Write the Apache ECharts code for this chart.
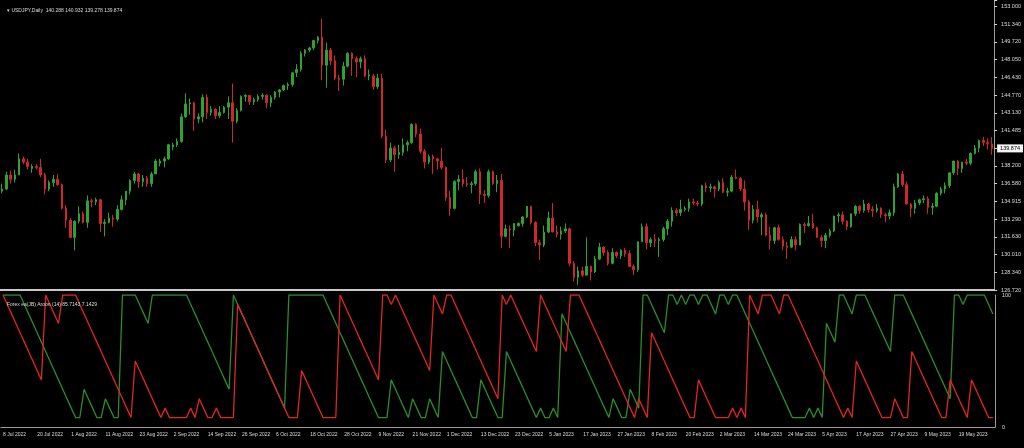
<!DOCTYPE html>
<html><head><meta charset="utf-8">
<script src="https://cdn.jsdelivr.net/npm/echarts/dist/echarts.min.js"></script>
<style>html,body{margin:0;padding:0;background:#000}#c{width:1024px;height:448px}</style>
</head><body><div id="c"></div><script>
const dates = [
"8 Jul 2022","11 Jul 2022","12 Jul 2022","13 Jul 2022","14 Jul 2022","15 Jul 2022","18 Jul 2022","19 Jul 2022","20 Jul 2022","21 Jul 2022","22 Jul 2022","25 Jul 2022","26 Jul 2022","27 Jul 2022","28 Jul 2022","29 Jul 2022",
"1 Aug 2022","2 Aug 2022","3 Aug 2022","4 Aug 2022","5 Aug 2022","8 Aug 2022","9 Aug 2022","10 Aug 2022","11 Aug 2022","12 Aug 2022","15 Aug 2022","16 Aug 2022","17 Aug 2022","18 Aug 2022","19 Aug 2022","22 Aug 2022","23 Aug 2022","24 Aug 2022","25 Aug 2022","26 Aug 2022","29 Aug 2022","30 Aug 2022","31 Aug 2022",
"1 Sep 2022","2 Sep 2022","5 Sep 2022","6 Sep 2022","7 Sep 2022","8 Sep 2022","9 Sep 2022","12 Sep 2022","13 Sep 2022","14 Sep 2022","15 Sep 2022","16 Sep 2022","19 Sep 2022","20 Sep 2022","21 Sep 2022","22 Sep 2022","23 Sep 2022","26 Sep 2022","27 Sep 2022","28 Sep 2022","29 Sep 2022","30 Sep 2022",
"3 Oct 2022","4 Oct 2022","5 Oct 2022","6 Oct 2022","7 Oct 2022","10 Oct 2022","11 Oct 2022","12 Oct 2022","13 Oct 2022","14 Oct 2022","17 Oct 2022","18 Oct 2022","19 Oct 2022","20 Oct 2022","21 Oct 2022","24 Oct 2022","25 Oct 2022","26 Oct 2022","27 Oct 2022","28 Oct 2022","31 Oct 2022",
"1 Nov 2022","2 Nov 2022","3 Nov 2022","4 Nov 2022","7 Nov 2022","8 Nov 2022","9 Nov 2022","10 Nov 2022","11 Nov 2022","14 Nov 2022","15 Nov 2022","16 Nov 2022","17 Nov 2022","18 Nov 2022","21 Nov 2022","22 Nov 2022","23 Nov 2022","24 Nov 2022","25 Nov 2022","28 Nov 2022","29 Nov 2022","30 Nov 2022",
"1 Dec 2022","2 Dec 2022","5 Dec 2022","6 Dec 2022","7 Dec 2022","8 Dec 2022","9 Dec 2022","12 Dec 2022","13 Dec 2022","14 Dec 2022","15 Dec 2022","16 Dec 2022","19 Dec 2022","20 Dec 2022","21 Dec 2022","22 Dec 2022","23 Dec 2022","26 Dec 2022","27 Dec 2022","28 Dec 2022","29 Dec 2022","30 Dec 2022",
"3 Jan 2023","4 Jan 2023","5 Jan 2023","6 Jan 2023","9 Jan 2023","10 Jan 2023","11 Jan 2023","12 Jan 2023","13 Jan 2023","16 Jan 2023","17 Jan 2023","18 Jan 2023","19 Jan 2023","20 Jan 2023","23 Jan 2023","24 Jan 2023","25 Jan 2023","26 Jan 2023","27 Jan 2023","30 Jan 2023","31 Jan 2023",
"1 Feb 2023","2 Feb 2023","3 Feb 2023","6 Feb 2023","7 Feb 2023","8 Feb 2023","9 Feb 2023","10 Feb 2023","13 Feb 2023","14 Feb 2023","15 Feb 2023","16 Feb 2023","17 Feb 2023","20 Feb 2023","21 Feb 2023","22 Feb 2023","23 Feb 2023","24 Feb 2023","27 Feb 2023","28 Feb 2023",
"1 Mar 2023","2 Mar 2023","3 Mar 2023","6 Mar 2023","7 Mar 2023","8 Mar 2023","9 Mar 2023","10 Mar 2023","13 Mar 2023","14 Mar 2023","15 Mar 2023","16 Mar 2023","17 Mar 2023","20 Mar 2023","21 Mar 2023","22 Mar 2023","23 Mar 2023","24 Mar 2023","27 Mar 2023","28 Mar 2023","29 Mar 2023","30 Mar 2023","31 Mar 2023",
"3 Apr 2023","4 Apr 2023","5 Apr 2023","6 Apr 2023","7 Apr 2023","10 Apr 2023","11 Apr 2023","12 Apr 2023","13 Apr 2023","14 Apr 2023","17 Apr 2023","18 Apr 2023","19 Apr 2023","20 Apr 2023","21 Apr 2023","24 Apr 2023","25 Apr 2023","26 Apr 2023","27 Apr 2023","28 Apr 2023",
"1 May 2023","2 May 2023","3 May 2023","4 May 2023","5 May 2023","8 May 2023","9 May 2023","10 May 2023","11 May 2023","12 May 2023","15 May 2023","16 May 2023","17 May 2023","18 May 2023","19 May 2023","22 May 2023","23 May 2023","24 May 2023","25 May 2023","26 May 2023","29 May 2023","30 May 2023","31 May 2023"
];
// [open, high, low, close]
const ohlc = [
[135.9,136.6,135.7,136.1],[136.1,137.7,136.0,137.4],[137.4,137.8,136.6,137.0],[137.0,137.9,136.7,137.4],[137.4,139.4,137.4,138.9],[138.9,139.1,138.4,138.6],[138.6,138.9,137.9,138.2],[138.0,138.4,137.6,138.2],[138.2,138.4,137.9,138.1],[138.1,138.9,137.2,137.4],[137.4,137.6,135.6,136.1],[136.1,136.9,135.9,136.7],[136.7,137.4,136.3,137.0],[137.0,137.5,136.4,136.5],[136.5,136.6,134.2,134.3],[134.3,134.6,132.5,133.2],
[133.2,133.4,131.6,131.6],[131.6,133.2,130.4,133.1],[133.1,134.5,132.9,133.8],[133.8,134.0,132.9,133.0],[133.0,135.5,132.5,135.0],[135.0,135.2,134.4,134.9],[134.9,135.3,134.6,135.1],[135.1,135.2,132.1,132.9],[132.9,133.3,131.7,133.0],[133.0,133.9,132.9,133.4],[133.4,133.7,132.6,133.3],[133.3,134.6,133.1,134.2],[134.2,135.5,134.1,135.1],[135.1,135.9,134.6,135.9],[135.9,137.0,135.6,136.9],[136.9,137.7,136.6,137.5],[137.5,137.6,136.2,136.8],[136.8,137.4,136.3,137.1],[137.1,137.3,136.3,136.6],[136.6,137.7,136.3,137.5],[137.5,138.9,137.5,138.7],[138.5,138.9,138.2,138.7],[138.7,139.1,138.1,138.9],
[138.9,140.3,138.8,140.2],[140.0,140.4,139.7,140.2],[140.2,140.8,140.0,140.5],[140.5,143.1,140.4,142.8],[142.8,145.0,142.7,144.0],[144.0,144.5,143.0,144.1],[144.1,144.2,141.5,142.6],[142.6,143.1,142.2,142.8],[142.8,144.9,142.3,144.6],[144.6,144.9,142.6,143.2],[143.2,143.8,142.9,143.5],[143.5,143.6,142.6,142.9],[142.9,143.8,142.7,143.2],[143.2,143.8,143.1,143.7],[143.7,144.7,142.6,144.1],[144.1,145.9,140.4,142.4],[142.4,143.6,142.2,143.4],[143.4,144.8,143.3,144.7],[144.7,144.9,144.2,144.8],[144.8,144.8,143.9,144.2],[144.2,144.6,143.9,144.4],[144.4,144.9,144.2,144.7],
[144.7,145.0,144.4,144.8],[144.8,144.9,143.6,144.1],[144.1,144.8,143.7,144.6],[144.6,145.2,144.4,145.1],[145.1,145.4,144.6,145.3],[145.3,145.8,145.2,145.7],[145.7,146.0,145.3,145.8],[145.8,146.9,145.6,146.9],[146.9,147.7,146.5,147.2],[147.2,148.9,147.0,148.7],[148.7,149.1,148.4,149.0],[149.0,149.3,148.8,149.2],[149.2,149.9,149.0,149.9],[149.9,150.3,149.6,150.2],[150.2,151.9,146.2,147.6],[147.6,149.7,145.5,149.0],[149.0,149.2,147.6,148.0],[148.0,148.5,146.2,146.4],[146.4,146.7,145.2,146.3],[146.3,147.9,145.7,147.5],[147.5,148.8,147.4,148.7],
[148.7,148.8,146.6,148.2],[148.2,148.4,146.5,147.9],[147.9,148.4,147.3,148.2],[148.2,148.5,146.5,146.6],[146.6,147.2,146.2,146.7],[146.6,146.8,145.3,145.6],[145.6,146.8,145.4,146.4],[146.4,146.8,140.8,141.0],[141.0,141.6,138.5,138.8],[138.8,140.4,138.6,139.9],[139.9,140.1,137.7,139.3],[139.3,140.2,138.9,139.5],[139.5,140.8,139.2,140.2],[140.2,140.6,139.6,140.4],[140.4,142.2,140.3,142.1],[142.1,142.2,140.9,141.2],[141.2,141.7,139.4,139.6],[139.6,139.8,138.0,138.6],[138.6,139.3,138.4,139.1],[139.1,139.3,137.5,138.9],[138.9,139.0,137.9,138.7],[138.7,139.9,137.9,138.1],
[138.1,138.2,135.0,135.3],[135.3,135.9,133.6,134.3],[134.3,136.9,134.2,136.8],[136.8,137.4,136.0,137.0],[137.0,137.9,136.3,136.6],[136.6,137.2,136.3,136.5],[136.5,136.8,135.7,136.6],[136.6,137.9,136.4,137.7],[137.7,138.0,134.7,135.6],[135.6,136.0,134.8,135.5],[135.5,137.9,135.3,137.7],[137.7,137.8,136.5,136.6],[136.6,137.4,135.8,136.9],[136.9,137.5,130.6,131.7],[131.7,132.8,131.6,132.4],[132.4,132.7,130.6,132.3],[132.3,132.9,131.7,132.9],[132.7,133.0,132.6,132.9],[132.9,133.6,132.6,133.5],[133.5,134.5,133.4,134.5],[134.5,134.5,132.8,133.0],[133.0,133.1,130.8,131.1],
[131.1,131.4,129.5,130.9],[130.9,132.7,130.7,132.1],[132.1,134.0,132.0,133.4],[133.4,134.8,132.1,132.1],[132.1,132.7,131.6,131.9],[131.9,132.6,131.4,132.2],[132.2,132.9,132.0,132.4],[132.4,132.5,128.9,129.2],[129.2,129.4,127.5,127.9],[127.9,128.9,127.2,128.5],[128.5,128.9,127.9,128.1],[128.1,131.6,128.1,128.9],[128.9,129.0,127.6,128.4],[128.4,129.9,128.3,129.6],[129.6,131.1,129.5,130.7],[130.7,130.8,129.9,130.2],[130.2,130.4,129.0,129.2],[129.2,130.6,129.1,130.2],[130.2,130.3,129.7,129.9],[129.9,130.5,129.6,130.4],[130.4,130.6,129.8,130.1],
[130.1,130.4,128.9,128.9],[128.9,129.1,128.1,128.6],[128.6,131.2,128.4,131.2],[131.2,132.9,131.2,132.6],[132.6,132.9,130.5,131.1],[131.1,131.6,130.7,131.4],[131.4,131.9,130.7,131.3],[131.3,131.6,129.8,131.4],[131.4,132.6,131.2,132.4],[132.4,133.3,131.8,133.1],[133.1,134.4,132.6,134.1],[134.1,134.3,133.6,133.9],[133.9,135.1,133.6,134.2],[134.2,134.5,134.0,134.3],[134.3,135.2,134.0,134.9],[134.9,135.2,134.6,134.8],[134.8,135.0,134.5,134.7],[134.7,136.5,134.5,136.4],[136.4,136.7,135.8,136.2],[136.2,136.6,135.8,136.3],
[136.3,136.4,135.3,136.1],[136.1,136.9,135.9,136.7],[136.7,137.1,135.7,135.8],[135.8,136.2,135.4,135.9],[135.9,137.4,135.8,137.2],[137.2,137.9,137.0,137.1],[137.1,137.2,135.9,136.1],[136.1,136.9,134.1,134.9],[134.9,135.1,132.3,133.2],[133.2,134.6,132.9,134.2],[134.2,135.0,133.0,133.5],[133.5,133.9,131.8,133.7],[133.7,133.9,131.7,131.8],[131.8,132.6,130.5,131.3],[131.3,132.6,131.0,132.5],[132.5,132.8,131.3,131.4],[131.4,131.7,130.4,130.8],[130.8,131.2,129.6,130.7],[130.7,131.7,130.6,131.4],[131.4,131.7,130.4,130.9],[130.9,132.9,130.9,132.8],[132.8,133.0,132.0,132.7],[132.7,133.6,132.6,132.9],
[132.9,133.8,132.4,132.5],[132.5,132.6,131.6,131.6],[131.6,131.8,130.7,131.3],[131.3,132.0,130.6,131.8],[131.8,132.4,131.6,132.2],[132.2,133.6,132.1,133.6],[133.6,133.9,133.0,133.7],[133.7,134.0,132.8,133.1],[133.1,133.2,132.3,132.6],[132.6,133.8,132.5,133.8],[133.8,134.6,133.6,134.5],[134.5,134.6,133.8,134.1],[134.1,135.1,133.9,134.7],[134.7,134.8,133.9,134.2],[134.2,134.5,133.5,134.1],[134.1,134.7,133.9,134.3],[134.3,134.4,133.4,133.7],[133.7,133.9,133.0,133.6],[133.6,134.2,133.3,133.9],[133.9,136.6,133.6,136.3],
[136.3,137.6,136.2,137.5],[137.5,137.8,136.3,136.5],[136.5,136.8,134.7,134.7],[134.7,134.8,133.5,134.3],[134.3,135.1,133.8,134.8],[134.8,135.2,134.6,135.1],[135.1,135.5,134.8,135.2],[135.2,135.4,133.8,134.4],[134.4,134.8,133.7,134.5],[134.5,135.8,134.4,135.7],[135.7,136.3,135.5,136.1],[136.1,136.7,135.7,136.4],[136.4,137.6,136.2,137.6],[137.6,138.7,137.4,138.7],[138.7,138.8,137.4,138.0],[138.0,138.6,137.6,138.6],[138.6,138.9,138.3,138.5],[138.5,139.5,138.3,139.4],[139.4,140.2,139.3,139.9],[139.9,140.7,139.5,140.6],[140.6,140.95,140.1,140.4],[140.4,140.8,139.8,140.29],[140.288,140.932,139.278,139.874]
];
const priceTicks = ["126.720","128.340","130.010","131.630","133.290","134.915","136.580","138.200","","141.485","143.130","144.770","146.430","148.050","149.720","151.340","153.000"];
const lastPrice = 139.874;
const aroonPeriod = 14;
const mainTitle = "\u25BE USDJPY,Daily  140.288 140.932 139.278 139.874";
const indTitle = "Forex ea(JB) Aroon (14) 85.7143 7.1429";

const highs = ohlc.map(r => r[1]);
const lows = ohlc.map(r => r[2]);
function aroon(arr, up) {
  const out = [];
  for (let i = 0; i < arr.length; i++) {
    const s = Math.max(0, i - aroonPeriod + 1);
    let b = i;
    for (let j = i; j >= s; j--) { if (up ? arr[j] > arr[b] : arr[j] < arr[b]) b = j; }
    out.push(+(100 * (aroonPeriod - (i - b)) / aroonPeriod).toFixed(4));
  }
  return out;
}
const aroonUp = aroon(highs, true);
const aroonDown = aroon(lows, false);
const candles = ohlc.map(r => [r[0], r[3], r[2], r[1]]);

const PMIN = 126.72, PINT = 126.72 / 77, PMAX = 153.65;
const txt = '#dcdcdc', axisCol = '#9c9c9c', FF = 'Liberation Sans';
const showDate = i => i % 8 === 0 && i < dates.length - 5;
const chart = echarts.init(document.getElementById('c'), null, {renderer: 'canvas'});
chart.setOption({
  animation: false,
  backgroundColor: '#000',
  textStyle: {fontFamily: FF},
  title: [
    {text: mainTitle, left: 2, top: 3, textStyle: {color: txt, fontSize: 5, fontWeight: 'normal', fontFamily: FF}},
    {text: indTitle, left: 2, top: 297, textStyle: {color: txt, fontSize: 5, fontWeight: 'normal', fontFamily: FF}}
  ],
  grid: [
    {left: 0, right: 29, top: 0, height: 290},
    {left: 0, right: 29, top: 295, height: 132}
  ],
  xAxis: [
    {type: 'category', gridIndex: 0, data: dates, boundaryGap: true,
     axisLine: {lineStyle: {color: '#c8c8c8', width: 2}}, axisTick: {show: false}, axisLabel: {show: false}, splitLine: {show: false}},
    {type: 'category', gridIndex: 1, data: dates, boundaryGap: true,
     axisLine: {lineStyle: {color: axisCol}},
     axisTick: {alignWithLabel: true, interval: showDate, length: 3, lineStyle: {color: '#cfcfcf'}},
     axisLabel: {interval: showDate, color: txt, fontSize: 5, align: 'left', margin: 5, fontFamily: FF},
     splitLine: {show: false}}
  ],
  yAxis: [
    {type: 'value', gridIndex: 0, position: 'right', min: PMIN, max: PMAX, interval: PINT, scale: true,
     axisLine: {show: true, lineStyle: {color: axisCol}},
     axisTick: {show: true, length: 3, lineStyle: {color: '#cfcfcf'}},
     axisLabel: {color: txt, fontSize: 5.5, margin: 7, fontFamily: FF,
       formatter: v => { const k = (v - PMIN) / PINT; const r = Math.round(k); return Math.abs(k - r) < 0.02 && r >= 0 && r < priceTicks.length ? priceTicks[r] : ''; }},
     splitLine: {show: false}},
    {type: 'value', gridIndex: 1, position: 'right', min: 0, max: 100, interval: 100,
     axisLine: {show: true, lineStyle: {color: axisCol}},
     axisTick: {show: false},
     axisLabel: {color: txt, fontSize: 5.5, margin: 7, fontFamily: FF},
     splitLine: {show: false}}
  ],
  series: [
    {type: 'candlestick', xAxisIndex: 0, yAxisIndex: 0, data: candles, barWidth: 2,
     itemStyle: {color: '#2fa32f', color0: '#cf2828', borderColor: '#2fa32f', borderColor0: '#cf2828', borderWidth: 1},
     markLine: {silent: true, symbol: 'none', data: [{yAxis: lastPrice}], lineStyle: {color: 'rgba(0,0,0,0)', width: 1},
       label: {show: true, position: 'end', distance: 3, formatter: lastPrice.toFixed(3), color: '#000', backgroundColor: '#f4f4f4', fontSize: 5.5, padding: [1, 3], fontFamily: FF}}},
    {type: 'line', xAxisIndex: 1, yAxisIndex: 1, data: aroonUp, symbol: 'none', lineStyle: {color: '#2b8c2b', width: 1.3}},
    {type: 'line', xAxisIndex: 1, yAxisIndex: 1, data: aroonDown, symbol: 'none', lineStyle: {color: '#e0261f', width: 1.3}}
  ]
});
</script></body></html>
